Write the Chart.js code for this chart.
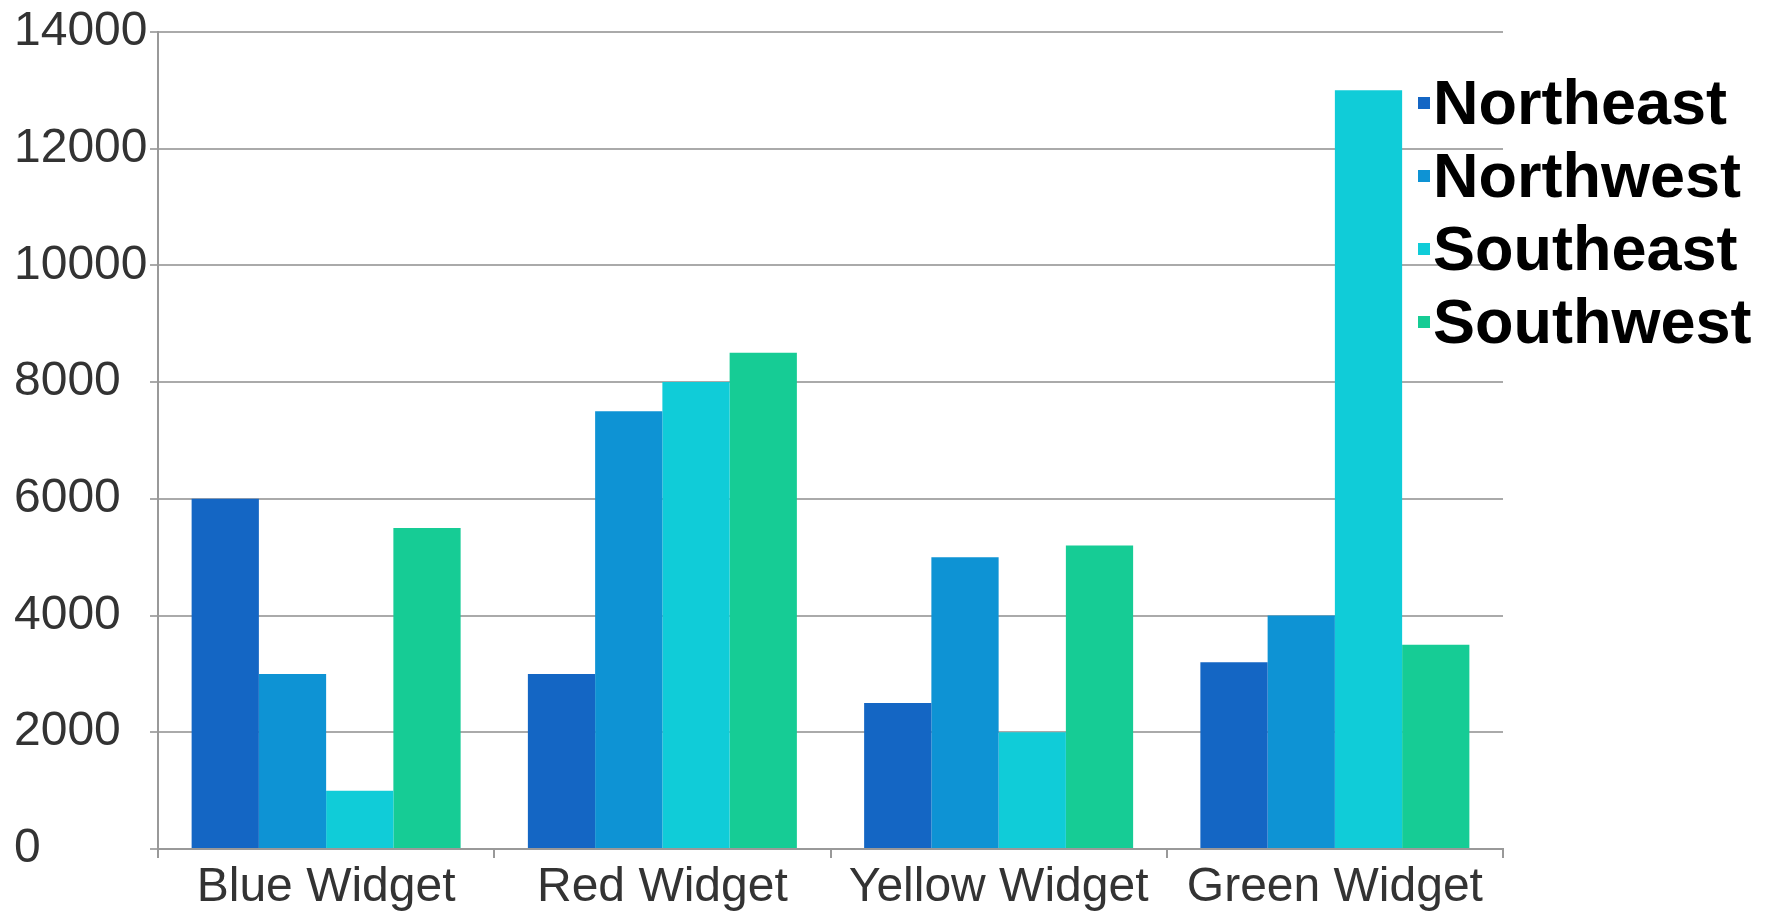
<!DOCTYPE html>
<html>
<head>
<meta charset="utf-8">
<script src="https://cdn.jsdelivr.net/npm/chart.js@4.4.1/dist/chart.umd.min.js"></script>
<style>
  html, body { margin: 0; padding: 0; background: #fff; }
  #wrap { position: relative; width: 1775px; height: 916px; }
  #leyenda { position: absolute; left: 1418px; top: 66px; font-family: "Liberation Sans", Arial, sans-serif; font-weight: bold; font-size: 63px; color: #000; line-height: 73px; }
  #leyenda div { display: flex; align-items: center; white-space: nowrap; }
  #leyenda span.cuadro { display: inline-block; width: 12px; height: 12px; margin-right: 3px; }
</style>
</head>
<body>
<div id="wrap">
  <canvas id="graficoWidgets" width="1775" height="916"></canvas>
  <div id="leyenda"></div>
</div>
<script>
// Datos del gráfico
const categorias = ['Blue Widget', 'Red Widget', 'Yellow Widget', 'Green Widget'];
const regiones = ['Northeast', 'Northwest', 'Southeast', 'Southwest'];
const northeast = [6000, 3000, 2500, 3200];
const northwest = [3000, 7500, 5000, 4000];
const southeast = [1000, 8000, 2000, 13000];
const southwest = [5500, 8500, 5200, 3500];
const colores = ['#1466C4', '#0E93D4', '#10CCD8', '#16CC95'];

document.addEventListener('DOMContentLoaded', () => {
  const ctx = document.getElementById('graficoWidgets').getContext('2d');
  const series = [northeast, northwest, southeast, southwest];

  const grafico = new Chart(ctx, {
    type: 'bar',
    data: {
      labels: categorias,
      datasets: series.map((valores, i) => ({
        label: regiones[i],
        data: valores,
        backgroundColor: colores[i],
        borderWidth: 0,
        categoryPercentage: 0.8,
        barPercentage: 1.0
      }))
    },
    options: {
      responsive: false,
      animation: false,
      layout: { padding: { top: 27, right: 272, left: 14, bottom: 0 } },
      plugins: {
        legend: { display: false },
        tooltip: { enabled: false }
      },
      scales: {
        x: {
          grid: { display: true, drawOnChartArea: false, drawTicks: true, tickLength: 9, color: '#999', lineWidth: 2, offset: true },
          border: { display: true, color: '#999', width: 2 },
          ticks: { color: '#333', font: { family: 'Liberation Sans', size: 48 }, padding: 1 },
          afterFit: (escala) => { escala.height = 67; }
        },
        y: {
          min: 0,
          max: 14000,
          ticks: {
            stepSize: 2000,
            color: '#333',
            font: { family: 'Liberation Sans', size: 48 },
            padding: 3,
            crossAlign: 'far', // etiquetas alineadas a la izquierda
            callback: (valor) => String(valor) // sin separador de miles
          },
          grid: { color: '#aaa', lineWidth: 2, tickLength: 8 },
          border: { display: true, color: '#999', width: 2 },
          afterFit: (escala) => { escala.width = 144; }
        }
      }
    }
  });

  // Leyenda a la derecha, encima del área de gráfico
  const leyenda = document.getElementById('leyenda');
  grafico.data.datasets.forEach(ds => {
    const fila = document.createElement('div');
    fila.innerHTML = `<span class="cuadro" style="background:${ds.backgroundColor}"></span>${ds.label}`;
    leyenda.appendChild(fila);
  });
});
</script>
</body>
</html>
